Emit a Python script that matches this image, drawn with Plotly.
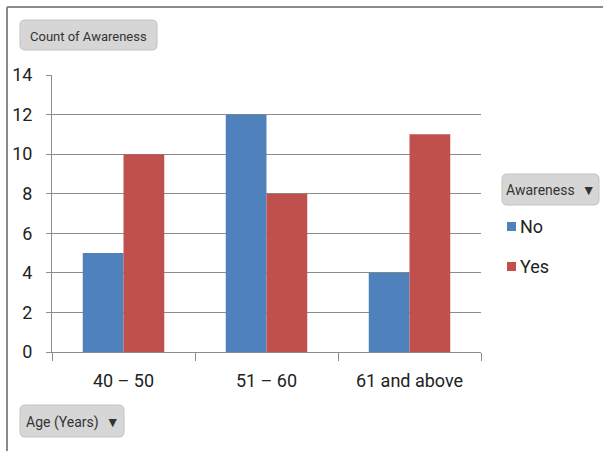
import plotly.graph_objects as go

# Survey counts by age band and awareness
age_groups = ["40 – 50", "51 – 60", "61 and above"]
series_names = ["No", "Yes"]
no_counts = [5, 12, 4]
yes_counts = [10, 8, 11]
y_ticks = [0, 2, 4, 6, 8, 10, 12, 14]

colors = {"No": "#4F81BD", "Yes": "#C0504D"}
FONT = "Roboto, Open Sans, sans-serif"
W, H = 603, 451
ML, MR, MT, MB = 52, 122, 75, 99
PW, PH = W - ML - MR, H - MT - MB

fig = go.Figure()
for name, vals in zip(series_names, [no_counts, yes_counts]):
    fig.add_trace(go.Bar(
        x=age_groups, y=vals, name=name,
        marker=dict(color=colors[name], line=dict(width=0)),
        showlegend=False,
    ))

fig.update_layout(
    width=W, height=H,
    margin=dict(l=ML, r=MR, t=MT, b=MB),
    paper_bgcolor="white", plot_bgcolor="white",
    barmode="group", bargap=0.43, bargroupgap=0,
    font=dict(family=FONT, size=18, color="#222222"),
    xaxis=dict(
        type="category", tickson="boundaries", ticks="outside", ticklen=8,
        tickcolor="#8c8c8c", showline=True, linecolor="#8c8c8c", linewidth=1,
        showgrid=False, tickfont=dict(size=18, family=FONT), ticklabelstandoff=12,
    ),
    yaxis=dict(
        range=[0, 14], tickvals=y_ticks, ticks="outside", ticklen=5,
        tickcolor="#8c8c8c", showline=True, linecolor="#8c8c8c", linewidth=1,
        showgrid=True, gridcolor="#8c8c8c", gridwidth=1, zeroline=False,
        tickfont=dict(size=18, family=FONT), ticklabelstandoff=10,
    ),
)


def px(x):
    # pixel column -> paper x (paper spans the plotting area)
    return (x - ML) / PW


def py(y):
    # pixel row -> paper y
    return (H - MB - y) / PH


shapes = [
    # outer frame lines (top and left)
    dict(type="line", xref="paper", yref="paper", x0=px(7), x1=px(W), y0=py(7), y1=py(7),
         line=dict(color="#8a8a8a", width=2)),
    dict(type="line", xref="paper", yref="paper", x0=px(7), x1=px(7), y0=py(7), y1=py(H),
         line=dict(color="#8a8a8a", width=2)),
]


def button(x0, y0, x1, y1, r=5):
    pts = lambda x, y: f"{px(x)},{py(y)}"
    path = (f"M {pts(x0+r, y0)} L {pts(x1-r, y0)} Q {pts(x1, y0)} {pts(x1, y0+r)} "
            f"L {pts(x1, y1-r)} Q {pts(x1, y1)} {pts(x1-r, y1)} L {pts(x0+r, y1)} "
            f"Q {pts(x0, y1)} {pts(x0, y1-r)} L {pts(x0, y0+r)} Q {pts(x0, y0)} {pts(x0+r, y0)} Z")
    return dict(type="path", xref="paper", yref="paper", path=path,
                fillcolor="#d6d6d6", line=dict(color="#c2c2c2", width=1), layer="below")


shapes.append(button(20, 20, 157, 50))
shapes.append(button(20, 405, 124, 437))
shapes.append(button(502, 174, 599, 205))

annotations = [
    dict(text="Count of Awareness", x=px(88.5), y=py(36), xanchor="center", yanchor="middle",
         font=dict(size=13, family=FONT, color="#333333")),
    dict(text="Age (Years)  ▼", x=px(72), y=py(422), xanchor="center", yanchor="middle",
         font=dict(size=14, family=FONT, color="#333333")),
    dict(text="Awareness  ▼", x=px(550.5), y=py(190), xanchor="center", yanchor="middle",
         font=dict(size=14, family=FONT, color="#333333")),
]

# legend entries drawn beside the plot
legend_y = [226, 266]
for name, ly in zip(series_names, legend_y):
    shapes.append(dict(type="rect", xref="paper", yref="paper",
                       x0=px(507), x1=px(516), y0=py(ly + 5), y1=py(ly - 4),
                       fillcolor=colors[name], line=dict(width=0)))
    annotations.append(dict(text=name, x=px(518), y=py(ly), xanchor="left", yanchor="middle",
                            font=dict(size=18, family=FONT, color="#222222")))

for a in annotations:
    a.update(xref="paper", yref="paper", showarrow=False)

fig.update_layout(shapes=shapes, annotations=annotations)
fig.write_html("out.html")
